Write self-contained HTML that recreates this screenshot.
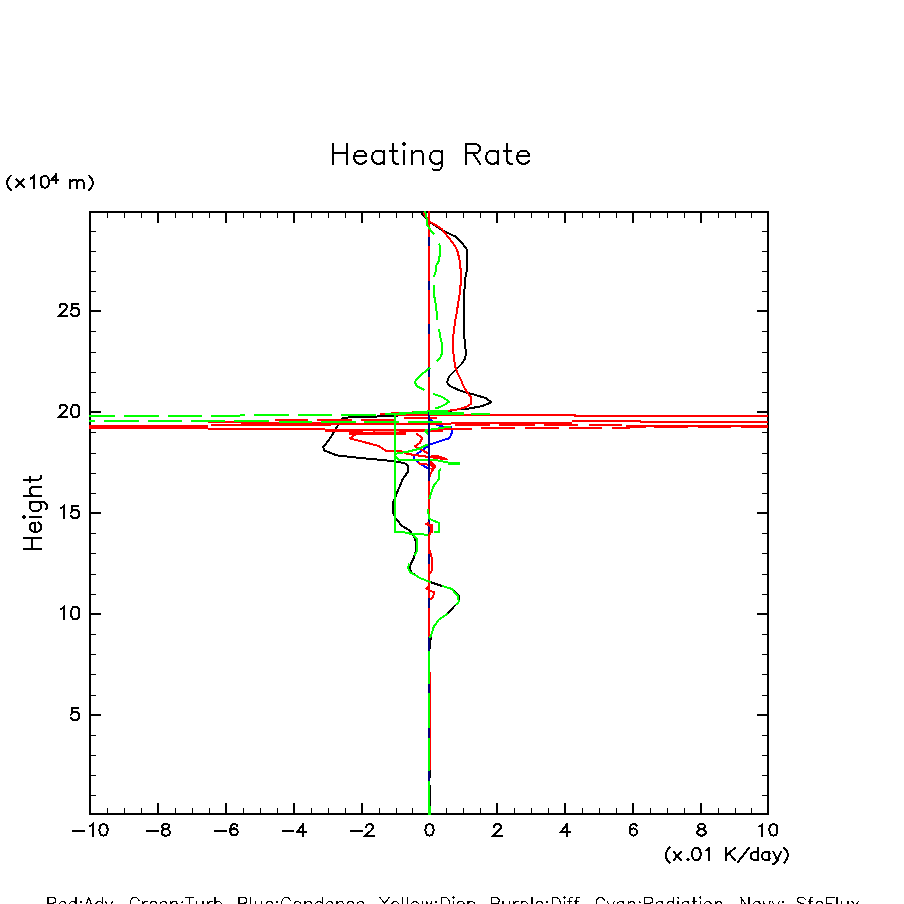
<!DOCTYPE html>
<html><head><meta charset="utf-8"><title>Heating Rate</title>
<style>html,body{margin:0;padding:0;background:#fff;font-family:"Liberation Sans",sans-serif}svg{display:block}</style>
</head><body>
<svg width="904" height="904" viewBox="0 0 904 904">
<rect width="904" height="904" fill="#fff"/>
<g shape-rendering="crispEdges" stroke="#000" fill="none">
<rect x="90" y="212" width="678" height="602" stroke-width="2"/>
<path d="M158 814 v-11 M158 212 v11 M226 814 v-11 M226 212 v11 M294 814 v-11 M294 212 v11 M362 814 v-11 M362 212 v11 M429 814 v-11 M429 212 v11 M497 814 v-11 M497 212 v11 M565 814 v-11 M565 212 v11 M633 814 v-11 M633 212 v11 M701 814 v-11 M701 212 v11 M90 715 h11 M768 715 h-11 M90 614 h11 M768 614 h-11 M90 513 h11 M768 513 h-11 M90 412 h11 M768 412 h-11 M90 311 h11 M768 311 h-11" stroke-width="2"/>
<path d="M107.5 814 v-6 M107.5 212 v6 M124.5 814 v-6 M124.5 212 v6 M141.5 814 v-6 M141.5 212 v6 M175.5 814 v-6 M175.5 212 v6 M192.5 814 v-6 M192.5 212 v6 M209.5 814 v-6 M209.5 212 v6 M243.5 814 v-6 M243.5 212 v6 M260.5 814 v-6 M260.5 212 v6 M277.5 814 v-6 M277.5 212 v6 M311.5 814 v-6 M311.5 212 v6 M328.5 814 v-6 M328.5 212 v6 M345.5 814 v-6 M345.5 212 v6 M379.5 814 v-6 M379.5 212 v6 M396.5 814 v-6 M396.5 212 v6 M412.5 814 v-6 M412.5 212 v6 M446.5 814 v-6 M446.5 212 v6 M463.5 814 v-6 M463.5 212 v6 M480.5 814 v-6 M480.5 212 v6 M514.5 814 v-6 M514.5 212 v6 M531.5 814 v-6 M531.5 212 v6 M548.5 814 v-6 M548.5 212 v6 M582.5 814 v-6 M582.5 212 v6 M599.5 814 v-6 M599.5 212 v6 M616.5 814 v-6 M616.5 212 v6 M650.5 814 v-6 M650.5 212 v6 M667.5 814 v-6 M667.5 212 v6 M684.5 814 v-6 M684.5 212 v6 M718.5 814 v-6 M718.5 212 v6 M735.5 814 v-6 M735.5 212 v6 M751.5 814 v-6 M751.5 212 v6 M90 795.5 h6 M768 795.5 h-6 M90 775.5 h6 M768 775.5 h-6 M90 755.5 h6 M768 755.5 h-6 M90 735.5 h6 M768 735.5 h-6 M90 695.5 h6 M768 695.5 h-6 M90 674.5 h6 M768 674.5 h-6 M90 654.5 h6 M768 654.5 h-6 M90 634.5 h6 M768 634.5 h-6 M90 594.5 h6 M768 594.5 h-6 M90 574.5 h6 M768 574.5 h-6 M90 553.5 h6 M768 553.5 h-6 M90 533.5 h6 M768 533.5 h-6 M90 493.5 h6 M768 493.5 h-6 M90 473.5 h6 M768 473.5 h-6 M90 453.5 h6 M768 453.5 h-6 M90 432.5 h6 M768 432.5 h-6 M90 392.5 h6 M768 392.5 h-6 M90 372.5 h6 M768 372.5 h-6 M90 352.5 h6 M768 352.5 h-6 M90 331.5 h6 M768 331.5 h-6 M90 291.5 h6 M768 291.5 h-6 M90 271.5 h6 M768 271.5 h-6 M90 251.5 h6 M768 251.5 h-6 M90 231.5 h6 M768 231.5 h-6" stroke-width="1"/>
</g>
<g shape-rendering="crispEdges" stroke-linejoin="round">
<path d="M420.5 212 L430 222 L443 230.7 L455.3 236.5 L460.3 241 L466.7 249.2 L467 269 L465.5 277 L464.5 289 L463.9 305 L463.9 333 L465.3 346.5 L466 354.2 L464.7 359.2 L461.4 364.2 L455.3 370.2 L449.2 376.3 L447 382.4 L449.2 385 L451.4 386.8 L461.6 391.2 L473.1 394.3 L486.4 398.3 L491.2 402.3 L481.9 406.2 L467.8 408.7 L455.4 409.6 L443.9 412.4 L420 413.3 L391 416.2 L359 416.9 L343 417.8 L337 427 L329 440 L323.4 446.9 L323.9 450.4 L336.9 455.4 L359.8 457.9 L379.7 459.8 L394.6 461.3 L404.9 463.3 L408.4 466.8 L407.9 471.8 L402.6 479.5 L396.9 492.9 L392.9 502.9 L392.9 511.9 L395.9 518.8 L401.9 525.8 L409.9 530.8 L414.3 537.2 L415.8 541.7 L415.8 550.7 L413.9 557.7 L409.9 566 L410.9 572 L419.8 577.9 L429.8 581.9 L441.7 585.9 L451.7 588.9 L459.2 595.9 L458.7 601.8 L453.7 606.8 L447.7 613.8 L438.7 619.8 L433.8 626.7 L431.3 634.7 L429.8 644.7 L429.3 652.6" stroke="#000000" stroke-width="2" fill="none"/>
<path d="M429 418 L431.5 420.4 L437.7 425.3 L443.5 426.6 L450.7 426.5 L452.5 431 L449.6 438.1 L429.8 444.6 L423.4 449.4 L413.9 455.9 L414.4 458.9 L417.9 462.3 L428.3 468.8" stroke="#0000ff" stroke-width="2" fill="none"/>
<path d="M424.6 211 L424.2 214.5 L426.3 217.5 L429.3 221.6 L436.5 225.5 L442 229.3 L446.5 234.9 L452 242 L455.9 247.6 L457.5 251.5 L459.2 258.1 L460.3 264.7 L460.8 273.6 L460.6 284.6 L459.7 293.5 L458.6 300 L457 311 L455 322.1 L453.7 332 L452.9 339.8 L452.9 348.7 L454 357.5 L455.1 366.4 L457.5 373 L462 381.9 L462.9 385 L466.9 392.1 L470.9 396.9 L470.9 404 L466.9 406.7 L458.9 409.3 L448.3 410.8 L395 413.3 L380 414.2" stroke="#ff0000" stroke-width="2" fill="none"/>
<path d="M89 427 L208.3 427" stroke="#ff0000" stroke-width="4" fill="none"/>
<path d="M208.3 422.3 L241 422.3" stroke="#ff0000" stroke-width="1.7" fill="none"/>
<path d="M211 424.9 L241 424.9" stroke="#ff0000" stroke-width="1.7" fill="none"/>
<path d="M241 423.6 L331 423.6" stroke="#ff0000" stroke-width="4.2" fill="none"/>
<path d="M331 423.8 L451 423.8" stroke="#ff0000" stroke-width="2" fill="none"/>
<path d="M208.3 429 L325 429" stroke="#ff0000" stroke-width="2" fill="none"/>
<path d="M275.3 419.9 L308 419.9" stroke="#ff0000" stroke-width="1.2" fill="none"/>
<path d="M317.3 419.9 L352 419.9" stroke="#ff0000" stroke-width="1.8" fill="none"/>
<path d="M361.2 419.8 L394.9 419.8" stroke="#ff0000" stroke-width="2" fill="none"/>
<path d="M380.3 414.2 L394.9 413.3" stroke="#ff0000" stroke-width="2" fill="none"/>
<path d="M404 418.4 L437 418.4" stroke="#ff0000" stroke-width="2" fill="none"/>
<path d="M325 430 L406 430" stroke="#ff0000" stroke-width="2" fill="none"/>
<path d="M349 433.25 L406 433.25" stroke="#ff0000" stroke-width="2.5" fill="none"/>
<path d="M325 431.5 L363 431.5" stroke="#ff0000" stroke-width="1" fill="none"/>
<path d="M372.7 431.5 L374.5 431.5" stroke="#ff0000" stroke-width="1" fill="none"/>
<path d="M374.5 431.5 L398.8 431.5" stroke="#ff9090" stroke-width="1" fill="none"/>
<path d="M398.8 431.5 L406 431.5" stroke="#ff0000" stroke-width="1" fill="none"/>
<path d="M406 430.5 L442.8 430.5" stroke="#ff0000" stroke-width="3" fill="none"/>
<path d="M442.8 429 L472 429" stroke="#ff0000" stroke-width="2" fill="none"/>
<path d="M395 415 L575 415 L575 416 L768 416" stroke="#ff0000" stroke-width="2" fill="none"/>
<path d="M451 422.9 L572 422.9" stroke="#ff0000" stroke-width="2.4" fill="none"/>
<path d="M572 421 L640 421 L640 421.6 L768 421.6" stroke="#ff0000" stroke-width="2" fill="none"/>
<path d="M455 424.6 L490 424.6" stroke="#ff0000" stroke-width="2" fill="none"/>
<path d="M499.3 424.6 L534.9 424.6" stroke="#ff0000" stroke-width="2" fill="none"/>
<path d="M544.2 424.6 L578.3 424.6" stroke="#ff0000" stroke-width="2" fill="none"/>
<path d="M589.1 424.6 L621.6 424.6" stroke="#ff0000" stroke-width="2" fill="none"/>
<path d="M626 425.9 L768 425.9" stroke="#ff0000" stroke-width="2" fill="none"/>
<path d="M481 428.3 L514.8 428.3" stroke="#ff0000" stroke-width="2" fill="none"/>
<path d="M524.8 428.3 L558.9 428.3" stroke="#ff0000" stroke-width="2" fill="none"/>
<path d="M569 428.3 L601.5 428.3" stroke="#ff0000" stroke-width="2" fill="none"/>
<path d="M611.6 428.3 L630 428.3" stroke="#ff0000" stroke-width="2" fill="none"/>
<path d="M630 427.4 L645.8 427.4" stroke="#ff0000" stroke-width="1.6" fill="none"/>
<path d="M654 427.4 L688 427.4" stroke="#ff0000" stroke-width="1.6" fill="none"/>
<path d="M698 427.4 L731 427.4" stroke="#ff0000" stroke-width="1.6" fill="none"/>
<path d="M741 427.4 L768 427.4" stroke="#ff0000" stroke-width="1.6" fill="none"/>
<path d="M356.8 433.5 L349.8 438.4 L378.7 445.9 L386.7 451.4 L401.5 451.4 L407.4 453.9 L427.8 456.9 L446.8 459.3" stroke="#ff0000" stroke-width="2" fill="none"/>
<path d="M415.9 433.5 L422.4 437.9 L419.9 442.9 L414.9 446.4 L422.9 450.4 L427.8 453.4" stroke="#ff0000" stroke-width="2" fill="none"/>
<path d="M407.4 453.9 L446.8 459.3 L436.8 455.9 L427.8 456.9" stroke="#ff0000" stroke-width="2" fill="none"/>
<path d="M417.9 463.3 L428.8 464.8 L434.8 466.8 L429.8 474.8 L428.8 481" stroke="#ff0000" stroke-width="2" fill="none"/>
<path d="M428.8 460 L434.8 466.8 L431 470" stroke="#ff0000" stroke-width="3" fill="none"/>
<path d="M429 412.5 L395 414 L395 532 L404 532.3 L413 534.3 L429 534.6" stroke="#00ff00" stroke-width="2" fill="none"/>
<path d="M395 453.9 L406.9 451.9 L418.9 448.9 L427.8 444.4" stroke="#00ff00" stroke-width="2" fill="none"/>
<path d="M396 456.9 L399 459.8 L436.8 460.3 L449.7 462.8" stroke="#00ff00" stroke-width="2" fill="none"/>
<path d="M448.2 463.5 L459.7 463.5" stroke="#00ff00" stroke-width="3" fill="none"/>
<path d="M424.8 430.5 L450.7 426.5" stroke="#00ff00" stroke-width="2" fill="none"/>
<path d="M424.8 430.5 L428.8 435" stroke="#00ff00" stroke-width="2" fill="none"/>
<path d="M429 212 L429 651" stroke="#000080" stroke-width="2" fill="none"/>
<path d="M429 211 L429 237" stroke="#ff0000" stroke-width="2" fill="none"/>
<path d="M429 246 L429 281" stroke="#ff0000" stroke-width="2" fill="none"/>
<path d="M429 290 L429 324" stroke="#ff0000" stroke-width="2" fill="none"/>
<path d="M429 334 L429 367" stroke="#ff0000" stroke-width="2" fill="none"/>
<path d="M429 377 L429 411" stroke="#ff0000" stroke-width="2" fill="none"/>
<path d="M429 481 L429 516" stroke="#ff0000" stroke-width="2" fill="none"/>
<path d="M429 534 L429 554" stroke="#ff0000" stroke-width="2" fill="none"/>
<path d="M429 564 L429 598" stroke="#ff0000" stroke-width="2" fill="none"/>
<path d="M429 608 L429 637" stroke="#ff0000" stroke-width="2" fill="none"/>
<path d="M429 523 L425.5 524 L431 526 L432.5 528.5 L431 532 L429 535" stroke="#ff0000" stroke-width="2" fill="none"/>
<path d="M431 524 L431 533" stroke="#ff0000" stroke-width="3" fill="none"/>
<path d="M429.8 550.7 L432.3 559.7 L431.8 567.6 L431.5 571 L429 575" stroke="#ff0000" stroke-width="2" fill="none"/>
<path d="M429 586 L426.5 588.4 L429.8 590.9 L433.8 591.9 L433.3 596.9 L429.8 599.8" stroke="#ff0000" stroke-width="2" fill="none"/>
<path d="M429 651 L429 815" stroke="#00ff00" stroke-width="2" fill="none"/>
<path d="M430.5 672 V770" stroke="#ff0000" stroke-width="1" fill="none"/>
<path d="M430.5 770 V777.6 M430.5 785.2 V805.8" stroke="#000000" stroke-width="1" fill="none"/>
<path d="M430.5 805.8 V815" stroke="#00ff00" stroke-width="1" fill="none"/>
<path d="M428.75 684 V693 M428.75 728 V738 M428.75 771 V780.6" stroke="#000080" stroke-width="1.5" fill="none"/>
<path d="M412.9 534.3 L417.3 539.7 L417.3 550.7 L414.3 555.7" stroke="#00ff00" stroke-width="2" fill="none"/>
<path d="M409.4 563.6 L407.9 567.6 L409.9 572 L419.8 577.9 L431 582.4" stroke="#00ff00" stroke-width="2" fill="none"/>
<path d="M441.7 585.9 L451.7 588.9 L458.2 596.5 L458.7 601.8 L456 605" stroke="#00ff00" stroke-width="2" fill="none"/>
<path d="M447.7 613.8 L438.7 619.8 L433.8 626.7 L431.3 634.7 L430 638" stroke="#00ff00" stroke-width="2" fill="none"/>
<path d="M425.2 211 L426.5 218.3 L427 225 L432 232 L434.5 234.3" stroke="#00ff00" stroke-width="2" fill="none"/>
<path d="M439 243.5 L440.4 247 L440 253.7 L438.7 261.4 L436 265.8 L435.4 273.6 L433.7 276.7" stroke="#00ff00" stroke-width="2" fill="none"/>
<path d="M434 285.2 L434.3 296.8 L435.2 300 L436.5 311 L437 319.7" stroke="#00ff00" stroke-width="2" fill="none"/>
<path d="M439 328.8 L440.4 337.6 L442 344.2 L442 353.1 L439.8 358.6 L437 361.4" stroke="#00ff00" stroke-width="2" fill="none"/>
<path d="M430.1 367.7 L422.1 374.1 L416.6 379.1 L414.9 382.4 L417.1 386.3 L424.4 390" stroke="#00ff00" stroke-width="2" fill="none"/>
<path d="M433.3 393.8 L442.1 396.9 L449.2 401.8 L442.1 406.2 L435.5 408.5" stroke="#00ff00" stroke-width="2" fill="none"/>
<path d="M440.8 468.3 L438.8 471.8 L439.3 478.8 L434.3 484.7 L431.8 491 L429.3 499.4" stroke="#00ff00" stroke-width="2" fill="none"/>
<path d="M427.8 508.9 L429.3 518.8 L438.7 522.8 L439.2 531.8 L434.3 532" stroke="#00ff00" stroke-width="2" fill="none"/>
<path d="M89 416 L333 415.2" stroke="#00ff00" stroke-width="2" fill="none" stroke-dasharray="34.3 9"stroke-dashoffset="7.8"/>
<path d="M341.3 415 L375.8 415" stroke="#00ff00" stroke-width="2" fill="none"/>
<path d="M385 414.5 L420 412 L430 411.3 L448 411.1" stroke="#00ff00" stroke-width="2" fill="none"/>
<path d="M429 413.2 L463.8 413.2" stroke="#00ff00" stroke-width="3" fill="none"/>
<path d="M471.3 413.8 L489.9 413.8" stroke="#00ff00" stroke-width="2" fill="none"/>
<path d="M89 421 L95 421" stroke="#00ff00" stroke-width="2" fill="none"/>
<path d="M104.4 421 L138.9 421" stroke="#00ff00" stroke-width="2" fill="none"/>
<path d="M148.3 421 L182 421" stroke="#00ff00" stroke-width="2" fill="none"/>
<path d="M191.4 421 L224.8 421" stroke="#00ff00" stroke-width="2" fill="none"/>
<path d="M234.4 421 L268.5 421" stroke="#00ff00" stroke-width="2" fill="none"/>
<path d="M278.6 421.7 L311.9 421.7" stroke="#00ff00" stroke-width="2" fill="none"/>
<path d="M321.2 422 L356 422" stroke="#00ff00" stroke-width="2" fill="none"/>
<path d="M364.3 422 L398.8 422" stroke="#00ff00" stroke-width="2" fill="none"/>
<path d="M408.1 422 L441.7 422" stroke="#00ff00" stroke-width="2" fill="none"/>
</g>
<g shape-rendering="crispEdges">
<path d="M333 143.89 L333 163.8 M347 143.89 L347 163.8 M333 153.37 L347 153.37 M354 156.22 L366 156.22 L366 154.32 L365 152.42 L364 151.48 L362 150.53 L359 150.53 L357 151.48 L355 153.37 L354 156.22 L354 158.11 L355 160.96 L357 162.85 L359 163.8 L362 163.8 L364 162.85 L366 160.96 M384 150.53 L384 163.8 M384 153.37 L382 151.48 L380 150.53 L377 150.53 L375 151.48 L373 153.37 L372 156.22 L372 158.11 L373 160.96 L375 162.85 L377 163.8 L380 163.8 L382 162.85 L384 160.96 M393 143.89 L393 160.01 L394 162.85 L396 163.8 L398 163.8 M390 150.53 L397 150.53 M403 143.89 L404 144.84 L405 143.89 L404 142.94 L403 143.89 M404 150.53 L404 163.8 M412 150.53 L412 163.8 M412 154.32 L415 151.48 L417 150.53 L420 150.53 L422 151.48 L423 154.32 L423 163.8 M442 150.53 L442 165.7 L441 168.54 L440 169.49 L438 170.44 L435 170.44 L433 169.49 M442 153.37 L440 151.48 L438 150.53 L435 150.53 L433 151.48 L431 153.37 L430 156.22 L430 158.11 L431 160.96 L433 162.85 L435 163.8 L438 163.8 L440 162.85 L442 160.96 M466 143.89 L466 163.8 M466 143.89 L475 143.89 L478 144.84 L479 145.79 L480 147.68 L480 149.58 L479 151.48 L478 152.42 L475 153.37 L466 153.37 M473 153.37 L480 163.8 M498 150.53 L498 163.8 M498 153.37 L496 151.48 L494 150.53 L491 150.53 L489 151.48 L487 153.37 L486 156.22 L486 158.11 L487 160.96 L489 162.85 L491 163.8 L494 163.8 L496 162.85 L498 160.96 M507 143.89 L507 160.01 L508 162.85 L510 163.8 L512 163.8 M504 150.53 L511 150.53 M517 156.22 L529 156.22 L529 154.32 L528 152.42 L527 151.48 L525 150.53 L522 150.53 L520 151.48 L518 153.37 L517 156.22 L517 158.11 L518 160.96 L520 162.85 L522 163.8 L525 163.8 L527 162.85 L529 160.96" fill="none" stroke="#000" stroke-width="2" stroke-linecap="square" stroke-linejoin="miter"/>
<path d="M78.2 707.81 L72.2 707.81 L71.6 713.12 L72.2 712.53 L74 711.94 L75.8 711.94 L77.6 712.53 L78.8 713.71 L79.4 715.48 L79.4 716.66 L78.8 718.43 L77.6 719.61 L75.8 720.2 L74 720.2 L72.2 719.61 L71.6 719.02 L71 717.84" fill="none" stroke="#000" stroke-width="2" stroke-linecap="square" stroke-linejoin="miter"/>
<path d="M60.8 609.17 L62 608.58 L63.8 606.81 L63.8 619.2 M74.6 606.81 L72.8 607.4 L71.6 609.17 L71 612.12 L71 613.89 L71.6 616.84 L72.8 618.61 L74.6 619.2 L75.8 619.2 L77.6 618.61 L78.8 616.84 L79.4 613.89 L79.4 612.12 L78.8 609.17 L77.6 607.4 L75.8 606.81 L74.6 606.81" fill="none" stroke="#000" stroke-width="2" stroke-linecap="square" stroke-linejoin="miter"/>
<path d="M60.8 508.17 L62 507.58 L63.8 505.81 L63.8 518.2 M78.2 505.81 L72.2 505.81 L71.6 511.12 L72.2 510.53 L74 509.94 L75.8 509.94 L77.6 510.53 L78.8 511.71 L79.4 513.48 L79.4 514.66 L78.8 516.43 L77.6 517.61 L75.8 518.2 L74 518.2 L72.2 517.61 L71.6 517.02 L71 515.84" fill="none" stroke="#000" stroke-width="2" stroke-linecap="square" stroke-linejoin="miter"/>
<path d="M59.6 407.76 L59.6 407.17 L60.2 405.99 L60.8 405.4 L62 404.81 L64.4 404.81 L65.6 405.4 L66.2 405.99 L66.8 407.17 L66.8 408.35 L66.2 409.53 L65 411.3 L59 417.2 L67.4 417.2 M74.6 404.81 L72.8 405.4 L71.6 407.17 L71 410.12 L71 411.89 L71.6 414.84 L72.8 416.61 L74.6 417.2 L75.8 417.2 L77.6 416.61 L78.8 414.84 L79.4 411.89 L79.4 410.12 L78.8 407.17 L77.6 405.4 L75.8 404.81 L74.6 404.81" fill="none" stroke="#000" stroke-width="2" stroke-linecap="square" stroke-linejoin="miter"/>
<path d="M59.6 306.76 L59.6 306.17 L60.2 304.99 L60.8 304.4 L62 303.81 L64.4 303.81 L65.6 304.4 L66.2 304.99 L66.8 306.17 L66.8 307.35 L66.2 308.53 L65 310.3 L59 316.2 L67.4 316.2 M78.2 303.81 L72.2 303.81 L71.6 309.12 L72.2 308.53 L74 307.94 L75.8 307.94 L77.6 308.53 L78.8 309.71 L79.4 311.48 L79.4 312.66 L78.8 314.43 L77.6 315.61 L75.8 316.2 L74 316.2 L72.2 315.61 L71.6 315.02 L71 313.84" fill="none" stroke="#000" stroke-width="2" stroke-linecap="square" stroke-linejoin="miter"/>
<path d="M73.39 830.64 L83.83 830.64 M89.63 826.32 L90.79 825.78 L92.53 824.16 L92.53 835.5 M102.97 824.16 L101.23 824.7 L100.07 826.32 L99.49 829.02 L99.49 830.64 L100.07 833.34 L101.23 834.96 L102.97 835.5 L104.13 835.5 L105.87 834.96 L107.03 833.34 L107.61 830.64 L107.61 829.02 L107.03 826.32 L105.87 824.7 L104.13 824.16 L102.97 824.16" fill="none" stroke="#000" stroke-width="2" stroke-linecap="square" stroke-linejoin="miter"/>
<path d="M147.19 830.64 L157.63 830.64 M164.59 824.16 L162.85 824.7 L162.27 825.78 L162.27 826.86 L162.85 827.94 L164.01 828.48 L166.33 829.02 L168.07 829.56 L169.23 830.64 L169.81 831.72 L169.81 833.34 L169.23 834.42 L168.65 834.96 L166.91 835.5 L164.59 835.5 L162.85 834.96 L162.27 834.42 L161.69 833.34 L161.69 831.72 L162.27 830.64 L163.43 829.56 L165.17 829.02 L167.49 828.48 L168.65 827.94 L169.23 826.86 L169.23 825.78 L168.65 824.7 L166.91 824.16 L164.59 824.16" fill="none" stroke="#000" stroke-width="2" stroke-linecap="square" stroke-linejoin="miter"/>
<path d="M215.19 830.64 L225.63 830.64 M237.23 825.78 L236.65 824.7 L234.91 824.16 L233.75 824.16 L232.01 824.7 L230.85 826.32 L230.27 829.02 L230.27 831.72 L230.85 833.88 L232.01 834.96 L233.75 835.5 L234.33 835.5 L236.07 834.96 L237.23 833.88 L237.81 832.26 L237.81 831.72 L237.23 830.1 L236.07 829.02 L234.33 828.48 L233.75 828.48 L232.01 829.02 L230.85 830.1 L230.27 831.72" fill="none" stroke="#000" stroke-width="2" stroke-linecap="square" stroke-linejoin="miter"/>
<path d="M282.9 830.64 L293.34 830.64 M303.2 824.16 L297.4 831.72 L306.1 831.72 M303.2 824.16 L303.2 835.5" fill="none" stroke="#000" stroke-width="2" stroke-linecap="square" stroke-linejoin="miter"/>
<path d="M351.19 830.64 L361.63 830.64 M366.27 826.86 L366.27 826.32 L366.85 825.24 L367.43 824.7 L368.59 824.16 L370.91 824.16 L372.07 824.7 L372.65 825.24 L373.23 826.32 L373.23 827.4 L372.65 828.48 L371.49 830.1 L365.69 835.5 L373.81 835.5" fill="none" stroke="#000" stroke-width="2" stroke-linecap="square" stroke-linejoin="miter"/>
<path d="M428.92 824.16 L427.18 824.7 L426.02 826.32 L425.44 829.02 L425.44 830.64 L426.02 833.34 L427.18 834.96 L428.92 835.5 L430.08 835.5 L431.82 834.96 L432.98 833.34 L433.56 830.64 L433.56 829.02 L432.98 826.32 L431.82 824.7 L430.08 824.16 L428.92 824.16" fill="none" stroke="#000" stroke-width="2" stroke-linecap="square" stroke-linejoin="miter"/>
<path d="M494.02 826.86 L494.02 826.32 L494.6 825.24 L495.18 824.7 L496.34 824.16 L498.66 824.16 L499.82 824.7 L500.4 825.24 L500.98 826.32 L500.98 827.4 L500.4 828.48 L499.24 830.1 L493.44 835.5 L501.56 835.5" fill="none" stroke="#000" stroke-width="2" stroke-linecap="square" stroke-linejoin="miter"/>
<path d="M566.95 824.16 L561.15 831.72 L569.85 831.72 M566.95 824.16 L566.95 835.5" fill="none" stroke="#000" stroke-width="2" stroke-linecap="square" stroke-linejoin="miter"/>
<path d="M636.69 825.78 L636.11 824.7 L634.37 824.16 L633.21 824.16 L631.47 824.7 L630.31 826.32 L629.73 829.02 L629.73 831.72 L630.31 833.88 L631.47 834.96 L633.21 835.5 L633.79 835.5 L635.53 834.96 L636.69 833.88 L637.27 832.26 L637.27 831.72 L636.69 830.1 L635.53 829.02 L633.79 828.48 L633.21 828.48 L631.47 829.02 L630.31 830.1 L629.73 831.72" fill="none" stroke="#000" stroke-width="2" stroke-linecap="square" stroke-linejoin="miter"/>
<path d="M700.34 824.16 L698.6 824.7 L698.02 825.78 L698.02 826.86 L698.6 827.94 L699.76 828.48 L702.08 829.02 L703.82 829.56 L704.98 830.64 L705.56 831.72 L705.56 833.34 L704.98 834.42 L704.4 834.96 L702.66 835.5 L700.34 835.5 L698.6 834.96 L698.02 834.42 L697.44 833.34 L697.44 831.72 L698.02 830.64 L699.18 829.56 L700.92 829.02 L703.24 828.48 L704.4 827.94 L704.98 826.86 L704.98 825.78 L704.4 824.7 L702.66 824.16 L700.34 824.16" fill="none" stroke="#000" stroke-width="2" stroke-linecap="square" stroke-linejoin="miter"/>
<path d="M759.51 826.32 L760.67 825.78 L762.41 824.16 L762.41 835.5 M772.85 824.16 L771.11 824.7 L769.95 826.32 L769.37 829.02 L769.37 830.64 L769.95 833.34 L771.11 834.96 L772.85 835.5 L774.01 835.5 L775.75 834.96 L776.91 833.34 L777.49 830.64 L777.49 829.02 L776.91 826.32 L775.75 824.7 L774.01 824.16 L772.85 824.16" fill="none" stroke="#000" stroke-width="2" stroke-linecap="square" stroke-linejoin="miter"/>
<path d="M669.52 847.72 L667.66 849.72 L666.42 852.01 L665.8 854.29 L665.8 856 L666.42 858.29 L667.66 860.57 L669.52 862.57 M673.8 852.01 L680.62 860 M680.62 852.01 L673.8 860 M687.82 858.86 L687.2 859.43 L687.82 860 L688.44 859.43 L687.82 858.86 M695.72 848.01 L693.86 848.58 L692.62 850.29 L692 853.15 L692 854.86 L692.62 857.72 L693.86 859.43 L695.72 860 L696.96 860 L698.82 859.43 L700.06 857.72 L700.68 854.86 L700.68 853.15 L700.06 850.29 L698.82 848.58 L696.96 848.01 L695.72 848.01 M706.3 850.29 L707.54 849.72 L709.4 848.01 L709.4 860 M726 848.01 L726 860 M734.68 848.01 L726 856 M729.1 853.15 L734.68 860 M749.16 847.72 L738 862 M758.24 848.01 L758.24 860 M758.24 853.72 L757 852.58 L755.76 852.01 L753.9 852.01 L752.66 852.58 L751.42 853.72 L750.8 855.43 L750.8 856.57 L751.42 858.29 L752.66 859.43 L753.9 860 L755.76 860 L757 859.43 L758.24 858.29 M769.44 852.01 L769.44 860 M769.44 853.72 L768.2 852.58 L766.96 852.01 L765.1 852.01 L763.86 852.58 L762.62 853.72 L762 855.43 L762 856.57 L762.62 858.29 L763.86 859.43 L765.1 860 L766.96 860 L768.2 859.43 L769.44 858.29 M773.52 852.01 L777.24 860 M780.96 852.01 L777.24 860 L776 862.28 L774.76 863.43 L773.52 864 L772.9 864 M784.1 847.72 L785.96 849.72 L787.2 852.01 L787.82 854.29 L787.82 856 L787.2 858.29 L785.96 860.57 L784.1 862.57" fill="none" stroke="#000" stroke-width="2" stroke-linecap="square" stroke-linejoin="miter"/>
<path d="M10.7 175.78 L8.9 177.7 L7.7 179.9 L7.1 182.1 L7.1 183.75 L7.7 185.95 L8.9 188.15 L10.7 190.07 M30.9 178.25 L32.1 177.7 L33.9 176.05 L33.9 187.6 M44.2 176.05 L42.4 176.6 L41.2 178.25 L40.6 181 L40.6 182.65 L41.2 185.4 L42.4 187.05 L44.2 187.6 L45.4 187.6 L47.2 187.05 L48.4 185.4 L49 182.65 L49 181 L48.4 178.25 L47.2 176.6 L45.4 176.05 L44.2 176.05 M70.4 179.9 L70.4 187.6 M70.4 182.1 L72.2 180.45 L73.4 179.9 L75.2 179.9 L76.4 180.45 L77 182.1 L77 187.6 M77 182.1 L78.8 180.45 L80 179.9 L81.8 179.9 L83 180.45 L83.6 182.1 L83.6 187.6 M89.2 175.78 L91 177.7 L92.2 179.9 L92.8 182.1 L92.8 183.75 L92.2 185.95 L91 188.15 L89.2 190.07" fill="none" stroke="#000" stroke-width="2" stroke-linecap="square" stroke-linejoin="miter"/>
<path d="M16.2 179.4 L23.9 187.1 M23.9 179.4 L16.2 187.1" stroke="#000" stroke-width="2" fill="none" stroke-linecap="square"/>
<path d="M56.1 174.18 L51.6 180.06 L58.35 180.06 M56.1 174.18 L56.1 183" fill="none" stroke="#000" stroke-width="2" stroke-linecap="square" stroke-linejoin="miter"/>
<path d="M1 -17.22 L1 0 M12.06 -17.22 L12.06 0 M1 -9.02 L12.06 -9.02 M17.59 -6.56 L27.07 -6.56 L27.07 -8.2 L26.28 -9.84 L25.49 -10.66 L23.91 -11.48 L21.54 -11.48 L19.96 -10.66 L18.38 -9.02 L17.59 -6.56 L17.59 -4.92 L18.38 -2.46 L19.96 -0.82 L21.54 0 L23.91 0 L25.49 -0.82 L27.07 -2.46 M31.81 -17.22 L32.6 -16.4 L33.39 -17.22 L32.6 -18.04 L31.81 -17.22 M32.6 -11.48 L32.6 0 M47.61 -11.48 L47.61 1.64 L46.82 4.1 L46.03 4.92 L44.45 5.74 L42.08 5.74 L40.5 4.92 M47.61 -9.02 L46.03 -10.66 L44.45 -11.48 L42.08 -11.48 L40.5 -10.66 L38.92 -9.02 L38.13 -6.56 L38.13 -4.92 L38.92 -2.46 L40.5 -0.82 L42.08 0 L44.45 0 L46.03 -0.82 L47.61 -2.46 M53.93 -17.22 L53.93 0 M53.93 -8.2 L56.3 -10.66 L57.88 -11.48 L60.25 -11.48 L61.83 -10.66 L62.62 -8.2 L62.62 0 M69.73 -17.22 L69.73 -3.28 L70.52 -0.82 L72.1 0 L73.68 0 M67.36 -11.48 L72.89 -11.48" fill="none" stroke="#000" stroke-width="2" stroke-linecap="square" stroke-linejoin="miter" transform="translate(41.2 549.6) rotate(-90)"/>
<path d="M47.9 897.52 L47.9 909.6 M47.9 897.52 L52.95 897.52 L54.63 898.1 L55.19 898.68 L55.75 899.83 L55.75 900.98 L55.19 902.12 L54.63 902.7 L52.95 903.27 L47.9 903.27 M51.83 903.27 L55.75 909.6 M59.12 905 L65.85 905 L65.85 903.85 L65.29 902.7 L64.73 902.12 L63.6 901.55 L61.92 901.55 L60.8 902.12 L59.68 903.27 L59.12 905 L59.12 906.15 L59.68 907.88 L60.8 909.02 L61.92 909.6 L63.6 909.6 L64.73 909.02 L65.85 907.88 M75.94 897.52 L75.94 909.6 M75.94 903.27 L74.82 902.12 L73.7 901.55 L72.02 901.55 L70.9 902.12 L69.77 903.27 L69.21 905 L69.21 906.15 L69.77 907.88 L70.9 909.02 L72.02 909.6 L73.7 909.6 L74.82 909.02 L75.94 907.88 M80.99 901.55 L80.43 902.12 L80.99 902.7 L81.55 902.12 L80.99 901.55 M80.99 908.45 L80.43 909.02 L80.99 909.6 L81.55 909.02 L80.99 908.45 M88.84 897.52 L84.36 909.6 M88.84 897.52 L93.33 909.6 M86.04 905.58 L91.65 905.58 M102.3 897.52 L102.3 909.6 M102.3 903.27 L101.18 902.12 L100.06 901.55 L98.38 901.55 L97.26 902.12 L96.13 903.27 L95.57 905 L95.57 906.15 L96.13 907.88 L97.26 909.02 L98.38 909.6 L100.06 909.6 L101.18 909.02 L102.3 907.88 M105.67 901.55 L109.03 909.6 M112.4 901.55 L109.03 909.6" fill="none" stroke="#000" stroke-width="1.2" stroke-linecap="square" stroke-linejoin="miter"/>
<path d="M138.8 900.4 L138.22 899.25 L137.08 898.1 L135.93 897.52 L133.64 897.52 L132.49 898.1 L131.35 899.25 L130.77 900.4 L130.2 902.12 L130.2 905 L130.77 906.73 L131.35 907.88 L132.49 909.02 L133.64 909.6 L135.93 909.6 L137.08 909.02 L138.22 907.88 L138.8 906.73 L138.8 905 M135.93 905 L138.8 905 M142.81 901.55 L142.81 909.6 M142.81 905 L143.38 903.27 L144.53 902.12 L145.67 901.55 L147.39 901.55 M149.69 905 L156.56 905 L156.56 903.85 L155.99 902.7 L155.42 902.12 L154.27 901.55 L152.55 901.55 L151.41 902.12 L150.26 903.27 L149.69 905 L149.69 906.15 L150.26 907.88 L151.41 909.02 L152.55 909.6 L154.27 909.6 L155.42 909.02 L156.56 907.88 M160 905 L166.88 905 L166.88 903.85 L166.31 902.7 L165.73 902.12 L164.59 901.55 L162.87 901.55 L161.72 902.12 L160.58 903.27 L160 905 L160 906.15 L160.58 907.88 L161.72 909.02 L162.87 909.6 L164.59 909.6 L165.73 909.02 L166.88 907.88 M170.89 901.55 L170.89 909.6 M170.89 903.85 L172.61 902.12 L173.76 901.55 L175.48 901.55 L176.62 902.12 L177.2 903.85 L177.2 909.6 M182.35 901.55 L181.78 902.12 L182.35 902.7 L182.93 902.12 L182.35 901.55 M182.35 908.45 L181.78 909.02 L182.35 909.6 L182.93 909.02 L182.35 908.45 M189.8 897.52 L189.8 909.6 M185.79 897.52 L193.82 897.52 M196.68 901.55 L196.68 907.3 L197.26 909.02 L198.4 909.6 L200.12 909.6 L201.27 909.02 L202.99 907.3 M202.99 901.55 L202.99 909.6 M207.57 901.55 L207.57 909.6 M207.57 905 L208.14 903.27 L209.29 902.12 L210.44 901.55 L212.16 901.55 M215.02 897.52 L215.02 909.6 M215.02 903.27 L216.17 902.12 L217.31 901.55 L219.03 901.55 L220.18 902.12 L221.33 903.27 L221.9 905 L221.9 906.15 L221.33 907.88 L220.18 909.02 L219.03 909.6 L217.31 909.6 L216.17 909.02 L215.02 907.88" fill="none" stroke="#000" stroke-width="1.2" stroke-linecap="square" stroke-linejoin="miter"/>
<path d="M238.9 897.52 L238.9 909.6 M238.9 897.52 L244.03 897.52 L245.74 898.1 L246.31 898.68 L246.88 899.83 L246.88 900.98 L246.31 902.12 L245.74 902.7 L244.03 903.27 M238.9 903.27 L244.03 903.27 L245.74 903.85 L246.31 904.43 L246.88 905.58 L246.88 907.3 L246.31 908.45 L245.74 909.02 L244.03 909.6 L238.9 909.6 M250.88 897.52 L250.88 909.6 M255.44 901.55 L255.44 907.3 L256.01 909.02 L257.15 909.6 L258.86 909.6 L260 909.02 L261.71 907.3 M261.71 901.55 L261.71 909.6 M265.71 905 L272.55 905 L272.55 903.85 L271.98 902.7 L271.41 902.12 L270.27 901.55 L268.56 901.55 L267.42 902.12 L266.28 903.27 L265.71 905 L265.71 906.15 L266.28 907.88 L267.42 909.02 L268.56 909.6 L270.27 909.6 L271.41 909.02 L272.55 907.88 M277.11 901.55 L276.54 902.12 L277.11 902.7 L277.68 902.12 L277.11 901.55 M277.11 908.45 L276.54 909.02 L277.11 909.6 L277.68 909.02 L277.11 908.45 M290.23 900.4 L289.66 899.25 L288.52 898.1 L287.38 897.52 L285.1 897.52 L283.96 898.1 L282.81 899.25 L282.24 900.4 L281.67 902.12 L281.67 905 L282.24 906.73 L282.81 907.88 L283.96 909.02 L285.1 909.6 L287.38 909.6 L288.52 909.02 L289.66 907.88 L290.23 906.73 M296.5 901.55 L295.36 902.12 L294.22 903.27 L293.65 905 L293.65 906.15 L294.22 907.88 L295.36 909.02 L296.5 909.6 L298.21 909.6 L299.35 909.02 L300.49 907.88 L301.06 906.15 L301.06 905 L300.49 903.27 L299.35 902.12 L298.21 901.55 L296.5 901.55 M305.06 901.55 L305.06 909.6 M305.06 903.85 L306.77 902.12 L307.91 901.55 L309.62 901.55 L310.76 902.12 L311.33 903.85 L311.33 909.6 M322.17 897.52 L322.17 909.6 M322.17 903.27 L321.03 902.12 L319.89 901.55 L318.17 901.55 L317.03 902.12 L315.89 903.27 L315.32 905 L315.32 906.15 L315.89 907.88 L317.03 909.02 L318.17 909.6 L319.89 909.6 L321.03 909.02 L322.17 907.88 M326.16 905 L333 905 L333 903.85 L332.43 902.7 L331.86 902.12 L330.72 901.55 L329.01 901.55 L327.87 902.12 L326.73 903.27 L326.16 905 L326.16 906.15 L326.73 907.88 L327.87 909.02 L329.01 909.6 L330.72 909.6 L331.86 909.02 L333 907.88 M336.99 901.55 L336.99 909.6 M336.99 903.85 L338.71 902.12 L339.85 901.55 L341.56 901.55 L342.7 902.12 L343.27 903.85 L343.27 909.6 M353.53 903.27 L352.96 902.12 L351.25 901.55 L349.54 901.55 L347.83 902.12 L347.26 903.27 L347.83 904.43 L348.97 905 L351.82 905.58 L352.96 906.15 L353.53 907.3 L353.53 907.88 L352.96 909.02 L351.25 909.6 L349.54 909.6 L347.83 909.02 L347.26 907.88 M356.96 905 L363.8 905 L363.8 903.85 L363.23 902.7 L362.66 902.12 L361.52 901.55 L359.81 901.55 L358.67 902.12 L357.53 903.27 L356.96 905 L356.96 906.15 L357.53 907.88 L358.67 909.02 L359.81 909.6 L361.52 909.6 L362.66 909.02 L363.8 907.88" fill="none" stroke="#000" stroke-width="1.2" stroke-linecap="square" stroke-linejoin="miter"/>
<path d="M379.9 897.52 L384.54 903.27 L384.54 909.6 M389.18 897.52 L384.54 903.27 M391.5 905 L398.46 905 L398.46 903.85 L397.88 902.7 L397.3 902.12 L396.14 901.55 L394.4 901.55 L393.24 902.12 L392.08 903.27 L391.5 905 L391.5 906.15 L392.08 907.88 L393.24 909.02 L394.4 909.6 L396.14 909.6 L397.3 909.02 L398.46 907.88 M402.52 897.52 L402.52 909.6 M407.15 897.52 L407.15 909.6 M414.11 901.55 L412.95 902.12 L411.79 903.27 L411.21 905 L411.21 906.15 L411.79 907.88 L412.95 909.02 L414.11 909.6 L415.85 909.6 L417.01 909.02 L418.17 907.88 L418.75 906.15 L418.75 905 L418.17 903.27 L417.01 902.12 L415.85 901.55 L414.11 901.55 M422.23 901.55 L424.55 909.6 M426.87 901.55 L424.55 909.6 M426.87 901.55 L429.19 909.6 M431.51 901.55 L429.19 909.6 M436.15 901.55 L435.57 902.12 L436.15 902.7 L436.73 902.12 L436.15 901.55 M436.15 908.45 L435.57 909.02 L436.15 909.6 L436.73 909.02 L436.15 908.45 M441.37 897.52 L441.37 909.6 M441.37 897.52 L445.43 897.52 L447.17 898.1 L448.33 899.25 L448.91 900.4 L449.49 902.12 L449.49 905 L448.91 906.73 L448.33 907.88 L447.17 909.02 L445.43 909.6 L441.37 909.6 M452.96 897.52 L453.54 898.1 L454.12 897.52 L453.54 896.95 L452.96 897.52 M453.54 901.55 L453.54 909.6 M463.98 903.27 L463.4 902.12 L461.66 901.55 L459.92 901.55 L458.18 902.12 L457.6 903.27 L458.18 904.43 L459.34 905 L462.24 905.58 L463.4 906.15 L463.98 907.3 L463.98 907.88 L463.4 909.02 L461.66 909.6 L459.92 909.6 L458.18 909.02 L457.6 907.88 M468.04 901.55 L468.04 913.62 M468.04 903.27 L469.2 902.12 L470.36 901.55 L472.1 901.55 L473.26 902.12 L474.42 903.27 L475 905 L475 906.15 L474.42 907.88 L473.26 909.02 L472.1 909.6 L470.36 909.6 L469.2 909.02 L468.04 907.88" fill="none" stroke="#000" stroke-width="1.2" stroke-linecap="square" stroke-linejoin="miter"/>
<path d="M491.2 897.52 L491.2 909.6 M491.2 897.52 L496.29 897.52 L497.99 898.1 L498.56 898.68 L499.12 899.83 L499.12 901.55 L498.56 902.7 L497.99 903.27 L496.29 903.85 L491.2 903.85 M503.08 901.55 L503.08 907.3 L503.65 909.02 L504.78 909.6 L506.48 909.6 L507.61 909.02 L509.31 907.3 M509.31 901.55 L509.31 909.6 M513.83 901.55 L513.83 909.6 M513.83 905 L514.4 903.27 L515.53 902.12 L516.66 901.55 L518.36 901.55 M521.19 901.55 L521.19 913.62 M521.19 903.27 L522.32 902.12 L523.45 901.55 L525.15 901.55 L526.28 902.12 L527.41 903.27 L527.98 905 L527.98 906.15 L527.41 907.88 L526.28 909.02 L525.15 909.6 L523.45 909.6 L522.32 909.02 L521.19 907.88 M531.94 897.52 L531.94 909.6 M535.9 905 L542.69 905 L542.69 903.85 L542.12 902.7 L541.56 902.12 L540.43 901.55 L538.73 901.55 L537.6 902.12 L536.46 903.27 L535.9 905 L535.9 906.15 L536.46 907.88 L537.6 909.02 L538.73 909.6 L540.43 909.6 L541.56 909.02 L542.69 907.88 M547.21 901.55 L546.65 902.12 L547.21 902.7 L547.78 902.12 L547.21 901.55 M547.21 908.45 L546.65 909.02 L547.21 909.6 L547.78 909.02 L547.21 908.45 M552.31 897.52 L552.31 909.6 M552.31 897.52 L556.27 897.52 L557.97 898.1 L559.1 899.25 L559.66 900.4 L560.23 902.12 L560.23 905 L559.66 906.73 L559.1 907.88 L557.97 909.02 L556.27 909.6 L552.31 909.6 M563.62 897.52 L564.19 898.1 L564.75 897.52 L564.19 896.95 L563.62 897.52 M564.19 901.55 L564.19 909.6 M572.11 897.52 L570.98 897.52 L569.85 898.1 L569.28 899.83 L569.28 909.6 M567.58 901.55 L571.54 901.55 M578.9 897.52 L577.77 897.52 L576.64 898.1 L576.07 899.83 L576.07 909.6 M574.37 901.55 L578.33 901.55" fill="none" stroke="#000" stroke-width="1.2" stroke-linecap="square" stroke-linejoin="miter"/>
<path d="M604.58 900.4 L604.01 899.25 L602.88 898.1 L601.75 897.52 L599.49 897.52 L598.36 898.1 L597.23 899.25 L596.67 900.4 L596.1 902.12 L596.1 905 L596.67 906.73 L597.23 907.88 L598.36 909.02 L599.49 909.6 L601.75 909.6 L602.88 909.02 L604.01 907.88 L604.58 906.73 M607.41 901.55 L610.8 909.6 M614.19 901.55 L610.8 909.6 L609.67 911.9 L608.54 913.05 L607.41 913.62 L606.84 913.62 M623.8 901.55 L623.8 909.6 M623.8 903.27 L622.67 902.12 L621.54 901.55 L619.84 901.55 L618.71 902.12 L617.58 903.27 L617.02 905 L617.02 906.15 L617.58 907.88 L618.71 909.02 L619.84 909.6 L621.54 909.6 L622.67 909.02 L623.8 907.88 M628.32 901.55 L628.32 909.6 M628.32 903.85 L630.02 902.12 L631.15 901.55 L632.85 901.55 L633.98 902.12 L634.54 903.85 L634.54 909.6 M639.63 901.55 L639.06 902.12 L639.63 902.7 L640.19 902.12 L639.63 901.55 M639.63 908.45 L639.06 909.02 L639.63 909.6 L640.19 909.02 L639.63 908.45 M644.72 897.52 L644.72 909.6 M644.72 897.52 L649.8 897.52 L651.5 898.1 L652.07 898.68 L652.63 899.83 L652.63 900.98 L652.07 902.12 L651.5 902.7 L649.8 903.27 L644.72 903.27 M648.67 903.27 L652.63 909.6 M662.81 901.55 L662.81 909.6 M662.81 903.27 L661.68 902.12 L660.55 901.55 L658.85 901.55 L657.72 902.12 L656.59 903.27 L656.02 905 L656.02 906.15 L656.59 907.88 L657.72 909.02 L658.85 909.6 L660.55 909.6 L661.68 909.02 L662.81 907.88 M673.55 897.52 L673.55 909.6 M673.55 903.27 L672.42 902.12 L671.29 901.55 L669.59 901.55 L668.46 902.12 L667.33 903.27 L666.76 905 L666.76 906.15 L667.33 907.88 L668.46 909.02 L669.59 909.6 L671.29 909.6 L672.42 909.02 L673.55 907.88 M677.51 897.52 L678.07 898.1 L678.64 897.52 L678.07 896.95 L677.51 897.52 M678.07 901.55 L678.07 909.6 M688.81 901.55 L688.81 909.6 M688.81 903.27 L687.68 902.12 L686.55 901.55 L684.85 901.55 L683.72 902.12 L682.59 903.27 L682.03 905 L682.03 906.15 L682.59 907.88 L683.72 909.02 L684.85 909.6 L686.55 909.6 L687.68 909.02 L688.81 907.88 M693.9 897.52 L693.9 907.3 L694.46 909.02 L695.6 909.6 L696.73 909.6 M692.2 901.55 L696.16 901.55 M699.55 897.52 L700.12 898.1 L700.68 897.52 L700.12 896.95 L699.55 897.52 M700.12 901.55 L700.12 909.6 M706.9 901.55 L705.77 902.12 L704.64 903.27 L704.08 905 L704.08 906.15 L704.64 907.88 L705.77 909.02 L706.9 909.6 L708.6 909.6 L709.73 909.02 L710.86 907.88 L711.42 906.15 L711.42 905 L710.86 903.27 L709.73 902.12 L708.6 901.55 L706.9 901.55 M715.38 901.55 L715.38 909.6 M715.38 903.85 L717.08 902.12 L718.21 901.55 L719.9 901.55 L721.03 902.12 L721.6 903.85 L721.6 909.6" fill="none" stroke="#000" stroke-width="1.2" stroke-linecap="square" stroke-linejoin="miter"/>
<path d="M741.1 897.52 L741.1 909.6 M741.1 897.52 L749.07 909.6 M749.07 897.52 L749.07 909.6 M759.89 901.55 L759.89 909.6 M759.89 903.27 L758.75 902.12 L757.61 901.55 L755.9 901.55 L754.76 902.12 L753.63 903.27 L753.06 905 L753.06 906.15 L753.63 907.88 L754.76 909.02 L755.9 909.6 L757.61 909.6 L758.75 909.02 L759.89 907.88 M763.3 901.55 L766.72 909.6 M770.14 901.55 L766.72 909.6 M772.41 901.55 L775.83 909.6 M779.25 901.55 L775.83 909.6 L774.69 911.9 L773.55 913.05 L772.41 913.62 L771.84 913.62 M783.23 901.55 L782.66 902.12 L783.23 902.7 L783.8 902.12 L783.23 901.55 M783.23 908.45 L782.66 909.02 L783.23 909.6 L783.8 909.02 L783.23 908.45" fill="none" stroke="#000" stroke-width="1.2" stroke-linecap="square" stroke-linejoin="miter"/>
<path d="M805.37 899.25 L804.22 898.1 L802.49 897.52 L800.18 897.52 L798.45 898.1 L797.3 899.25 L797.3 900.4 L797.88 901.55 L798.45 902.12 L799.61 902.7 L803.06 903.85 L804.22 904.43 L804.79 905 L805.37 906.15 L805.37 907.88 L804.22 909.02 L802.49 909.6 L800.18 909.6 L798.45 909.02 L797.3 907.88 M812.86 897.52 L811.71 897.52 L810.56 898.1 L809.98 899.83 L809.98 909.6 M808.25 901.55 L812.29 901.55 M822.66 903.27 L821.51 902.12 L820.36 901.55 L818.63 901.55 L817.47 902.12 L816.32 903.27 L815.75 905 L815.75 906.15 L816.32 907.88 L817.47 909.02 L818.63 909.6 L820.36 909.6 L821.51 909.02 L822.66 907.88 M826.7 897.52 L826.7 909.6 M826.7 897.52 L834.19 897.52 M826.7 903.27 L831.31 903.27 M837.07 897.52 L837.07 909.6 M841.68 901.55 L841.68 907.3 L842.26 909.02 L843.41 909.6 L845.14 909.6 L846.3 909.02 L848.02 907.3 M848.02 901.55 L848.02 909.6 M852.06 901.55 L858.4 909.6 M858.4 901.55 L852.06 909.6" fill="none" stroke="#000" stroke-width="1.2" stroke-linecap="square" stroke-linejoin="miter"/>
</g>
</svg>
</body></html>
